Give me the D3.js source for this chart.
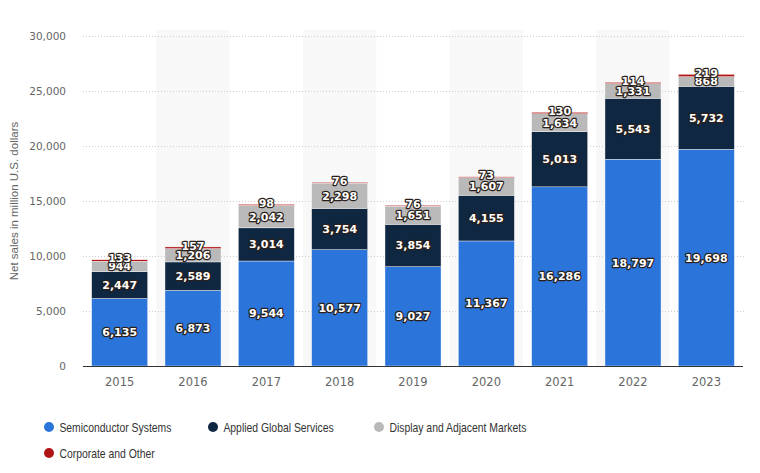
<!DOCTYPE html>
<html>
<head>
<meta charset="utf-8">
<script src="https://cdn.jsdelivr.net/npm/d3@7"></script>
<style>
  html, body { margin: 0; padding: 0; background: #fff; }
  svg { display: block; }
</style>
</head>
<body>
<svg id="chart" width="760" height="473"></svg>
<script>
const years = ['2015','2016','2017','2018','2019','2020','2021','2022','2023'];
const semiconductor = [6135, 6873, 9544, 10577, 9027, 11367, 16286, 18797, 19698];
const globalServices = [2447, 2589, 3014, 3754, 3854, 4155, 5013, 5543, 5732];
const display = [944, 1206, 2042, 2298, 1651, 1607, 1634, 1331, 868];
const corporate = [133, 157, 98, 76, 76, 73, 130, 114, 219];
const seriesNames = ['Semiconductor Systems', 'Applied Global Services', 'Display and Adjacent Markets', 'Corporate and Other'];
const seriesColors = ['#2a74da', '#0f2740', '#b9b9b9', '#b01515'];
const yTicks = [0, 5000, 10000, 15000, 20000, 25000, 30000];

const svg = d3.select('#chart');

// table for stacking
const rows = years.map((y,i)=>({year:y, s0:semiconductor[i], s1:globalServices[i], s2:display[i], s3:corporate[i]}));
const stack = d3.stack().keys(['s0','s1','s2','s3'])(rows);

const x = d3.scaleBand().domain(years).range([83, 743]).paddingInner(0.236).paddingOuter(0.118);
const y = d3.scaleLinear().domain([0, 30000]).range([366, 36]);

// alternating shaded columns
const step = x.step();
svg.append('g').selectAll('rect').data(years.filter((d,i)=>i%2===1)).join('rect')
  .attr('x', d=> x(d) - step*x.paddingInner()/2)
  .attr('y', y(30000) - 6)
  .attr('width', step)
  .attr('height', y(0) - y(30000) + 6)
  .attr('fill', '#f8f8f8');

// gridlines
svg.append('g').selectAll('line').data(yTicks.filter(d=>d>0)).join('line')
  .attr('x1', 83).attr('x2', 746)
  .attr('y1', d=>Math.round(y(d))+0.5).attr('y2', d=>Math.round(y(d))+0.5)
  .attr('stroke', '#cfcfcf').attr('stroke-width', 1).attr('stroke-dasharray', '1,2');

// y axis labels
const yAxis = d3.axisLeft(y).tickValues(yTicks).tickFormat(d3.format(',')).tickSize(0).tickPadding(0);
const yg = svg.append('g').attr('transform', 'translate(66,0)').call(yAxis);
yg.select('.domain').remove();
yg.selectAll('text').attr('fill', '#666').style('font-family', 'DejaVu Sans').style('font-size', '10.5px');

svg.append('text')
  .attr('transform', `translate(18,${(y(0)+y(30000))/2}) rotate(-90)`)
  .attr('text-anchor', 'middle')
  .attr('fill', '#666')
  .style('font-family', 'Liberation Sans')
  .style('font-size', '11.5px')
  .text('Net sales in million U.S. dollars');

// bars
const layers = svg.append('g').selectAll('g').data(stack).join('g')
  .attr('fill', (d,i)=>seriesColors[i]);
layers.selectAll('rect').data(d=>d).join('rect')
  .attr('x', d=>x(d.data.year))
  .attr('y', d=>y(d[1]))
  .attr('width', x.bandwidth())
  .attr('height', d=>y(d[0]) - y(d[1]))
  .attr('stroke', '#fff').attr('stroke-width', 0.4);

// x axis
const xAxis = d3.axisBottom(x).tickSize(0).tickPadding(12);
const xg = svg.append('g').attr('transform', `translate(0,${y(0)})`).call(xAxis);
xg.select('.domain').attr('stroke', '#333').attr('d', `M83,0.5H743`);
xg.selectAll('text').attr('fill', '#666').style('font-family', 'DejaVu Sans').style('font-size', '11.5px');

// value labels
const lg = svg.append('g');
stack.forEach((layer,k)=>{
  lg.selectAll(null).data(layer).join('text')
    .attr('x', d=>x(d.data.year) + x.bandwidth()/2)
    .attr('y', d=>(y(d[0]) + y(d[1]))/2 + (k===3 ? -2 : 0))
    .attr('dy', '0.36em')
    .attr('text-anchor', 'middle')
    .style('font-family', 'DejaVu Sans')
    .style('font-weight', 'bold')
    .style('font-size', '11px')
    .attr('fill', '#fff')
    .attr('stroke', '#2a1f1a')
    .attr('stroke-width', 2.4)
    .attr('stroke-linejoin', 'round')
    .attr('paint-order', 'stroke')
    .text(d=>d3.format(',')(d[1]-d[0]));
});

// legend
const legendPos = [[49,427],[213,427],[379,427],[49,453]];
const leg = svg.append('g').selectAll('g').data(seriesNames).join('g')
  .attr('transform', (d,i)=>`translate(${legendPos[i][0]},${legendPos[i][1]})`);
leg.append('circle').attr('r', 5).attr('fill', (d,i)=>seriesColors[i]);
leg.append('text')
  .attr('x', 13).attr('dy', '0.35em')
  .attr('transform', 'scale(0.8,1)')
  .attr('fill', '#333')
  .style('font-family', 'Liberation Sans')
  .style('font-size', '13px')
  .text(d=>d);
</script>
</body>
</html>
